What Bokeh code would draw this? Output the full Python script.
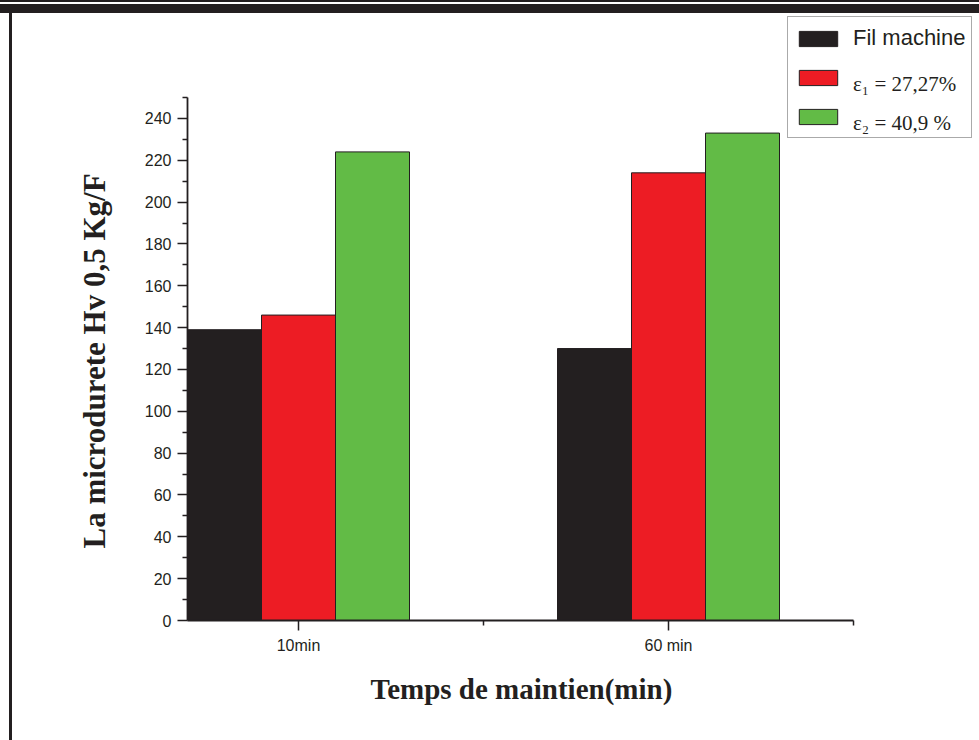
from bokeh.plotting import figure
from bokeh.models import FixedTicker, Legend, LegendItem, Range1d, Title, Div
from bokeh.layouts import column, row
from bokeh.embed import file_html
from bokeh.resources import INLINE

# ---- data ----
categories = ["10min", "60 min"]
x_pos = [1, 2]
fil_machine = [139, 130]
eps1 = [146, 214]
eps2 = [224, 233]
y_ticks = list(range(0, 241, 20))
y_minor = list(range(10, 251, 20))
x_minor = [1.5, 2.5]
series_labels = ["Fil machine", "ε₁ = 27,27%", "ε₂ = 40,9 %"]
x_title = "Temps de maintien(min)"
y_title = "La microdurete Hv 0,5 Kg/F"

INK = "#231f20"
colors = ["#231f20", "#ed1c24", "#62bb46"]
offsets = [-0.2, 0.0, 0.2]
bar_w = 0.2

# layout geometry (pixels)
W, H = 979, 740
strip = 13
frame_left, frame_bottom = 187, 620
axis_top, axis_right = 97, 855
y_px = 502 / 240.0      # px per y unit
x_px = 370.0            # px per x unit
y_top = 250 + (axis_top - strip) / y_px
x_right = 2 + (W - 668) / x_px

p = figure(width=W - strip, height=H - strip, output_backend="svg", toolbar_location=None,
           x_range=Range1d(0.7, x_right), y_range=Range1d(0, y_top),
           min_border_left=frame_left - strip, min_border_right=0,
           min_border_top=0, min_border_bottom=H - frame_bottom)
p.outline_line_color = None
p.xgrid.visible = False
p.ygrid.visible = False
p.background_fill_color = "white"
p.border_fill_color = "white"

renderers = []
for vals, col, off in zip([fil_machine, eps1, eps2], colors, offsets):
    r = p.vbar(x=[x + off for x in x_pos], top=vals, width=bar_w, bottom=0,
               fill_color=col, line_color=INK, line_width=1)
    renderers.append(r)

for ax in (p.xaxis[0], p.yaxis[0]):
    ax.axis_line_color = INK
    ax.axis_line_width = 1.8
    ax.major_tick_line_color = INK
    ax.minor_tick_line_color = INK
    ax.major_tick_line_width = 1.5
    ax.minor_tick_line_width = 1.5
    ax.major_tick_in = 0
    ax.minor_tick_in = 0
    ax.major_tick_out = 10
    ax.minor_tick_out = 5
    ax.major_label_text_font = "Liberation Sans"
    ax.major_label_text_font_size = "16px"
    ax.major_label_text_color = INK

p.xaxis.bounds = (0.7, 2.5)
p.yaxis.bounds = (0, 250)
p.xaxis.ticker = FixedTicker(ticks=x_pos, minor_ticks=x_minor)
p.xaxis.major_label_overrides = {x: c for x, c in zip(x_pos, categories)}
p.xaxis.major_label_standoff = 6
p.yaxis.ticker = FixedTicker(ticks=y_ticks, minor_ticks=y_minor)
p.yaxis.major_label_standoff = 6

# axis titles placed along the axis extent (offset from frame edge, left-aligned)
tx = Title(text=x_title, align="left", offset=370 - frame_left,
           text_font="Liberation Serif", text_font_style="bold", text_font_size="29px",
           text_color=INK, standoff=28)
ty = Title(text=y_title, align="left", offset=frame_bottom - 548,
           text_font="Liberation Serif", text_font_style="bold", text_font_size="31px",
           text_color=INK, standoff=60)
p.add_layout(tx, "below")
p.add_layout(ty, "left")

# legend: box + swatches + sans label, and overlay with serif labels
dummies = [p.vbar(x=[], top=[], width=0.1, fill_alpha=0, line_alpha=0) for _ in range(3)]
common = dict(location=(600, 482), orientation="vertical", padding=6, margin=0,
              spacing=9, glyph_width=48, glyph_height=19, label_height=30)
leg1 = Legend(items=[LegendItem(label=series_labels[0], renderers=[renderers[0]]),
                     LegendItem(label=" ", renderers=[renderers[1]]),
                     LegendItem(label=" ", renderers=[renderers[2]])],
              border_line_color="#555555", border_line_width=1,
              background_fill_color="white", background_fill_alpha=1,
              label_text_font="Liberation Sans", label_text_font_size="22px",
              label_text_color=INK, label_standoff=11, **common)
leg2 = Legend(items=[LegendItem(label=" ", renderers=[dummies[0]]),
                     LegendItem(label=series_labels[1], renderers=[dummies[1]]),
                     LegendItem(label=series_labels[2], renderers=[dummies[2]])],
              border_line_color=None, background_fill_alpha=0,
              label_text_font="Liberation Serif", label_text_font_size="21px",
              label_text_color=INK, label_standoff=18, **common)
p.add_layout(leg1, "center")
p.add_layout(leg2, "center")

# page frame strips
top = Div(text="", width=W, height=strip, margin=0,
          styles={"background": f"linear-gradient(to bottom, {INK} 0px, {INK} 2px, white 2px, "
                                f"white 4px, {INK} 4px, {INK} 13px)"})
left = Div(text="", width=strip, height=H - strip, margin=0,
           styles={"background": f"linear-gradient(to right, white 0px, white 9px, {INK} 9px, "
                                 f"{INK} 12px, white 12px)"})

layout = column(top, row(left, p, spacing=0), spacing=0)
open("out.html", "w").write(file_html(layout, INLINE))
